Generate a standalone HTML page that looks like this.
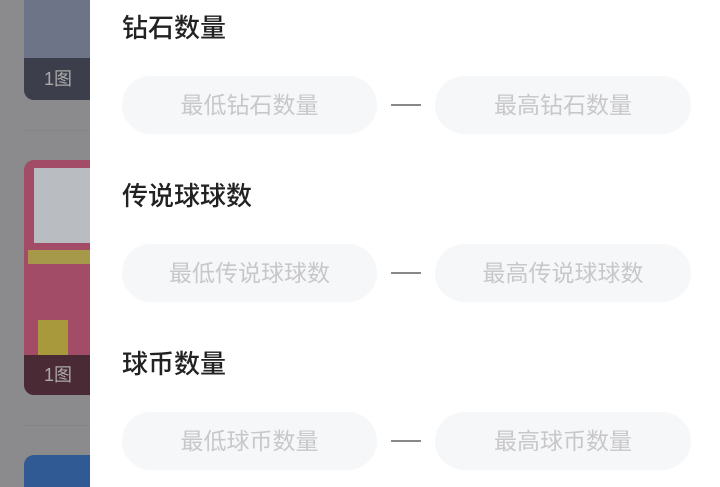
<!DOCTYPE html>
<html><head><meta charset="utf-8"><style>
body{margin:0;width:720px;height:487px;overflow:hidden;position:relative;background:#8b8b8d;font-family:"Liberation Sans","Noto Sans CJK SC",sans-serif}
.a{position:absolute}
.panel{left:90px;top:0;width:630px;height:487px;background:#fff}
h{position:absolute;left:122px;font-size:26px;color:#222;line-height:30px;font-weight:500}
.pill{position:absolute;height:58px;border-radius:29px;background:#f6f7f9;color:#c8c8ca;font-size:23px;line-height:58px;text-align:center}
.dash{position:absolute;left:391px;width:30px;height:2px;background:#888}
</style></head><body>
<div class="a" style="left:24px;top:0;width:66px;height:100px;background:#6d7487;border-radius:0 0 0 10px"></div>
<div class="a" style="left:24px;top:58px;width:66px;height:42px;background:#3c3f4b;border-radius:0 0 0 10px;color:#aaa;font-size:18px;line-height:42px;padding-left:20px;box-sizing:border-box">1图</div>
<div class="a" style="left:24px;top:130px;width:66px;height:1px;background:#848486"></div>
<div class="a" style="left:24px;top:160px;width:66px;height:235px;background:#a24c68;border-radius:10px 0 0 10px"></div>
<div class="a" style="left:34px;top:168px;width:56px;height:75px;background:#b9bcc0"></div>
<div class="a" style="left:28px;top:250px;width:62px;height:14px;background:#a69a4a"></div>
<div class="a" style="left:38px;top:320px;width:30px;height:40px;background:#a89a3c"></div>
<div class="a" style="left:24px;top:355px;width:66px;height:40px;background:#4a2a35;border-radius:0 0 0 10px;color:#aaa;font-size:18px;line-height:40px;padding-left:20px;box-sizing:border-box">1图</div>
<div class="a" style="left:24px;top:425px;width:66px;height:1px;background:#848486"></div>
<div class="a" style="left:24px;top:455px;width:66px;height:32px;background:#2f5a94;border-radius:10px 0 0 0"></div>
<div class="a panel"></div>
<h style="top:13px">钻石数量</h>
<div class="pill" style="left:122px;top:76px;width:255px">最低钻石数量</div>
<div class="dash" style="top:104px"></div>
<div class="pill" style="left:435px;top:76px;width:256px">最高钻石数量</div>
<h style="top:181px">传说球球数</h>
<div class="pill" style="left:122px;top:244px;width:255px">最低传说球球数</div>
<div class="dash" style="top:272px"></div>
<div class="pill" style="left:435px;top:244px;width:256px">最高传说球球数</div>
<h style="top:349px">球币数量</h>
<div class="pill" style="left:122px;top:412px;width:255px">最低球币数量</div>
<div class="dash" style="top:440px"></div>
<div class="pill" style="left:435px;top:412px;width:256px">最高球币数量</div>
</body></html>
